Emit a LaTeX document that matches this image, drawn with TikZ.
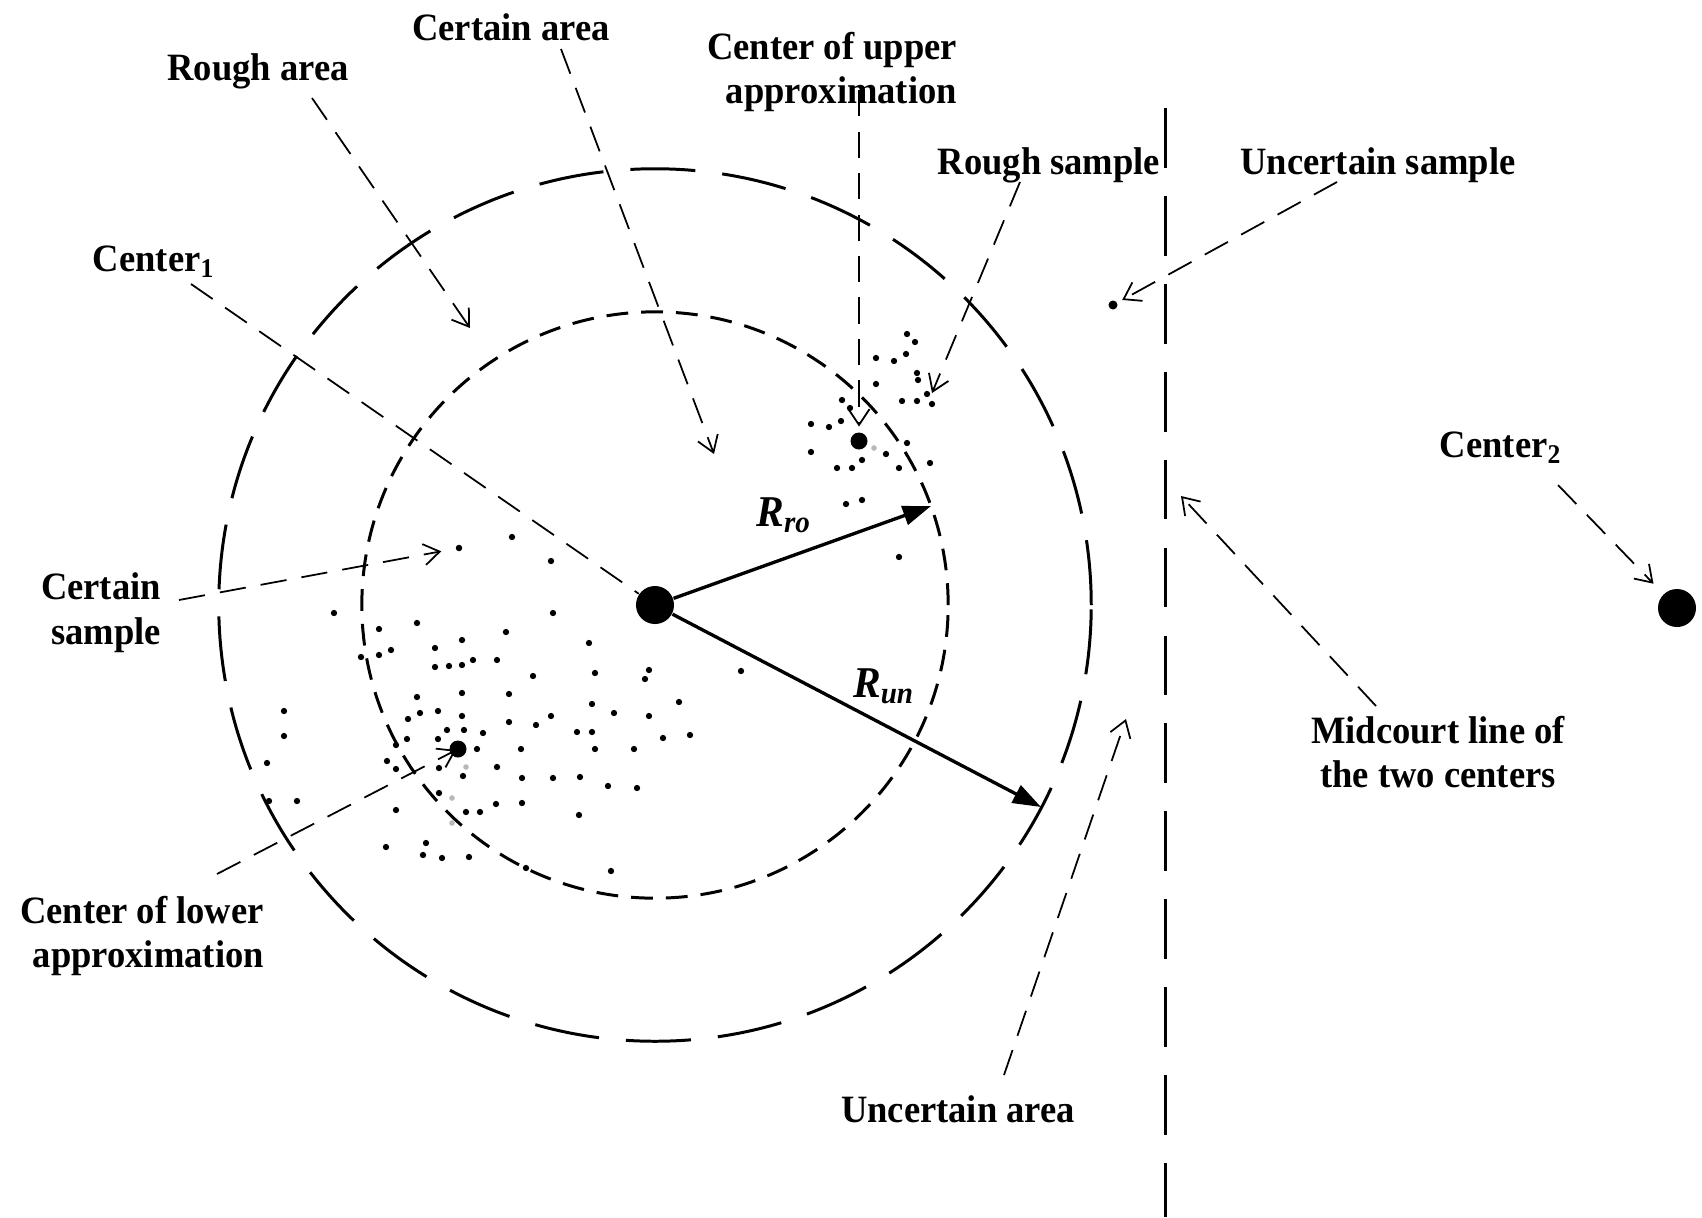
\documentclass[tikz,border=0pt]{standalone}
\usepackage{fontspec}
\setmainfont{Liberation Serif}[FakeStretch=0.945]
\usetikzlibrary{arrows.meta}

\begin{document}
\begin{tikzpicture}[
    x=0.01cm, y=-0.01cm,
    lbl/.style={font=\fontsize{11}{12.7}\selectfont\bfseries, inner sep=0pt, align=center},
    rlbl/.style={font=\fontsize{12.5}{14}\selectfont\bfseries\itshape, inner sep=0pt},
    dot/.style={circle, fill=black, inner sep=0pt, minimum size=#1},
    lead/.style={line width=0.5pt, dash pattern=on 7.5pt off 4.3pt, -{Straight Barb[length=4.5pt,width=6pt]}},
    ring/.style={line width=0.85pt, dash pattern=#1},
    rarrow/.style={line width=0.95pt, -{Triangle[length=8pt,width=5.5pt]}}
]
\useasboundingbox (0,0) rectangle (1702,1217);

% centers
\node[dot=0.38cm] (c1) at (655,605) {};
\node[dot=0.38cm] (c2) at (1677,608) {};
\node[dot=0.17cm] (lo) at (458,749) {};
\node[dot=0.17cm] (up) at (859,441) {};
\node[dot=0.09cm] (usd) at (1113,305) {};
\node[dot=0.065cm] (csd) at (459,548) {};

% the two areas and the midcourt line
\draw[ring={on 6.2pt off 3.7pt}] (c1.center) circle (2.93cm);
\draw[ring={on 18.5pt off 7.7pt}] (c1.center) circle (4.36cm);
\coordinate (m1) at (1165,108);
\coordinate (m2) at (1165,1217);
\draw[ring={on 17pt off 8pt}] (m1) -- (m2);

% samples
\foreach \x/\y in {(512,537),(551,561),(334,613),(417,623),(553,613),(379,629),(462,640),(506,632),
    (589,643),(435,648),(361,657),(379,655),(391,650),(435,667),(449,666),(462,665),(473,660),(497,660),
    (533,676),(595,673),(649,670),(645,679),(741,671),(462,693),(509,694),(417,697),(592,704),(679,702),
    (420,713),(408,719),(438,711),(462,716),(614,713),(649,716),(551,716),(509,722),(536,725),(447,730),
    (464,730),(483,733),(577,732),(592,732),(663,738),(690,735),(396,745),(407,739),(438,739),(477,749),
    (521,749),(595,749),(634,749),(387,761),(396,769),(439,768),(463,776),(497,767),(522,778),(553,778),
    (580,777),(608,786),(637,788),(439,793),(396,810),(466,812),(480,812),(496,804),(522,803),(579,815),
    (386,847),(426,843),(423,855),(442,858),(469,857),(526,868),(611,871),(284,711),(284,736),(267,763),
    (269,801),(297,801),(899,557),
    (907,334),(915,342),(876,358),(894,361),(906,354),(876,384),(917,373),(918,380),(842,400),(850,408),
    (902,401),(917,401),(927,394),(932,404),(811,424),(829,427),(841,421),(886,454),(907,443),(811,452),
    (837,468),(852,468),(862,460),(899,468),(930,463),(846,504),(862,500)}
    \fill \x circle (0.9pt);
\foreach \p in {(466,767),(452,798),(452,823),(874,448)}
    \fill[gray!55] \p circle (0.8pt);

% labels
\node[lbl] (ca) at (511,27) {Certain area};
\node[lbl] (ra) at (258,71) {Rough area};
\node[lbl, align=right] (cu) at (832,72) {Center of upper\\approximation};
\node[lbl] (rs) at (1049,165) {Rough sample};
\node[lbl] (us) at (1378,165) {Uncertain sample};
\node[lbl] (cl1) at (154,262) {Center\textsubscript{1}};
\node[lbl, align=right] (cs) at (101,613) {Certain\\sample};
\node[lbl, align=right] (cl) at (142,936) {Center of lower\\approximation};
\node[lbl] (cl2) at (1501,448) {Center\textsubscript{2}};
\node[lbl] (ml) at (1438,752) {Midcourt line of\\the two centers};
\node[lbl] (ua) at (958,1109) {Uncertain area};
\node[rlbl] (rro) at (784,515) {R\textsubscript{ro}};
\node[rlbl] (run) at (884,686) {R\textsubscript{un}};

% leaders
\coordinate (ra1) at (312,98);   \coordinate (ra2) at (470,328);
\coordinate (ca1) at (561,49);   \coordinate (ca2) at (714,454);
\coordinate (cu1) at (859,90);
\coordinate (rs1) at (1020,182); \coordinate (rs2) at (932,393);
\coordinate (us1) at (1337,182);
\coordinate (c11) at (191,284);
\coordinate (cs1) at (179,600);
\coordinate (lo1) at (217,874);
\coordinate (ua1) at (1004,1075); \coordinate (ua2) at (1126,719);
\coordinate (ml1) at (1376,706); \coordinate (ml2) at (1181,496);
\coordinate (c21) at (1558,485);
\draw[lead] (ra1) -- (ra2);
\draw[lead] (ca1) -- (ca2);
\draw[lead, shorten >=1.5pt] (cu1) -- (up);
\draw[lead] (rs1) -- (rs2);
\draw[lead, shorten >=1.5pt] (us1) -- (usd);
\draw[lead, -] (c11) -- (c1);
\draw[lead, shorten >=4pt] (cs1) -- (csd);
\draw[lead, shorten >=-2pt] (lo1) -- (lo);
\draw[lead] (ua1) -- (ua2);
\draw[lead] (ml1) -- (ml2);
\draw[lead, shorten >=4pt] (c21) -- (c2);

% radii
\coordinate (ro) at (931,506);
\coordinate (un) at (1041,807);
\draw[rarrow] (c1) -- (ro);
\draw[rarrow] (c1) -- (un);
\end{tikzpicture}
\end{document}
